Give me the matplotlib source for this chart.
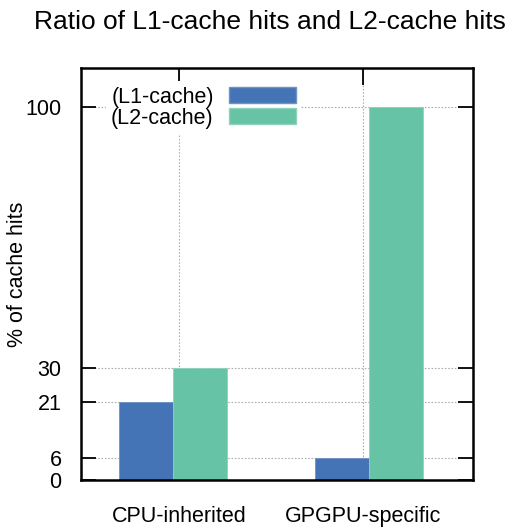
import numpy as np
import matplotlib.pyplot as plt
from matplotlib.patches import Patch

plt.rcParams['font.family'] = ['Liberation Sans', 'DejaVu Sans']

# data
categories = ["CPU-inherited", "GPGPU-specific"]
l1_hits = [21, 6]
l2_hits = [30, 100]
yticks = [0, 6, 21, 30, 100]

c_l1 = "#4474b5"
c_l2 = "#66c3a5"

fig = plt.figure(figsize=(5.13, 5.27), dpi=100)
ax = fig.add_axes([81/513, 1 - 480/527, 392/513, 412/527])

x = np.arange(len(categories))
w = 0.276
ax.bar(x - w/2, l1_hits, w, color=c_l1, edgecolor="#6f93c6", linewidth=0.6, zorder=2)
ax.bar(x + w/2, l2_hits, w, color=c_l2, edgecolor="#8fd3bc", linewidth=0.6, zorder=2)

ax.set_xlim(-0.469, 0.531 + 1)
ax.set_ylim(0, 110.5)
ax.set_yticks(yticks)
ax.set_yticklabels([str(v) for v in yticks], fontsize=15.5)
ax.set_xticks(x + np.array([0.03, -0.03]))
ax.set_xticklabels(categories, fontsize=15.5)

ax.tick_params(axis='y', direction='in', length=11, width=1.3, left=True, right=True, pad=14)
ax.tick_params(axis='x', direction='in', length=12, width=1.3, bottom=False, top=True, pad=19)
for s in ax.spines.values():
    s.set_linewidth(1.8)

ax.grid(True, color="#b0b0b0", linestyle=(0, (1.5, 1.5)), linewidth=0.8, zorder=0)
ax.set_axisbelow(True)

ax.set_ylabel("% of cache hits", fontsize=15.5)
ax.yaxis.set_label_coords(-0.135, 0.5)
fig.text(270/513, 1 - 22/527, "Ratio of L1-cache hits and L2-cache hits",
         fontsize=19, ha='center', va='center')

handles = [Patch(facecolor=c_l1, edgecolor="#6f93c6"), Patch(facecolor=c_l2, edgecolor="#8fd3bc")]
leg = ax.legend(handles, ["(L1-cache)", "(L2-cache)"], loc='upper right',
                bbox_to_anchor=(0.561, 0.968), markerfirst=False, fontsize=15.5,
                handlelength=3.1, handleheight=0.8, labelspacing=0.0,
                handletextpad=0.7, borderpad=0.25, borderaxespad=0.0,
                frameon=True, fancybox=False, edgecolor='none', framealpha=1)
for t in leg.get_texts():
    t.set_ha('right')

fig.savefig("out.png", dpi=100)
